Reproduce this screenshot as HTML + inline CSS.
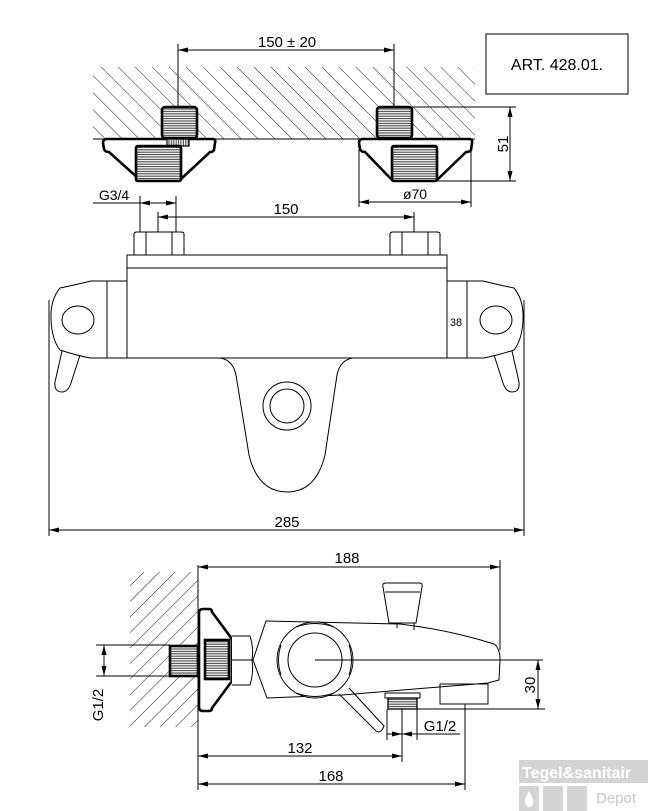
<!DOCTYPE html>
<html><head><meta charset="utf-8"><style>
html,body{margin:0;padding:0;background:#fff;}
svg{display:block;}
text{font-family:"Liberation Sans",sans-serif;fill:#000;}
</style></head><body>
<svg width="648" height="811" viewBox="0 0 648 811" xmlns="http://www.w3.org/2000/svg">
<defs>
<pattern id="h1" patternUnits="userSpaceOnUse" width="12" height="12" patternTransform="rotate(-45)">
<line x1="0" y1="0" x2="0" y2="12" stroke="#000" stroke-width="0.9"/>
</pattern>
<pattern id="h2" patternUnits="userSpaceOnUse" width="11" height="11" patternTransform="rotate(45)">
<line x1="0" y1="0" x2="0" y2="11" stroke="#000" stroke-width="0.9"/>
</pattern>
<pattern id="th" patternUnits="userSpaceOnUse" width="4" height="2.4">
<rect width="4" height="2.4" fill="#fff"/>
<line x1="0" y1="1" x2="4" y2="1" stroke="#444" stroke-width="1.1"/>
</pattern>
<pattern id="tv" patternUnits="userSpaceOnUse" width="2.4" height="4">
<rect width="2.4" height="4" fill="#fff"/>
<line x1="1" y1="0" x2="1" y2="4" stroke="#444" stroke-width="1.1"/>
</pattern>
<marker id="a" viewBox="0 0 10 6" refX="10" refY="3" markerWidth="10" markerHeight="6" orient="auto-start-reverse" markerUnits="userSpaceOnUse">
<path d="M0,0.5 L10,3 L0,5.5 z" fill="#000"/>
</marker>
</defs>

<g fill="none" stroke="#000" stroke-width="1">
<!-- TOP VIEW -->
<rect x="93" y="67" width="382" height="72" fill="url(#h1)" stroke="none"/>
<line x1="93" y1="139" x2="475" y2="139"/>
<line x1="178" y1="50" x2="394" y2="50" marker-start="url(#a)" marker-end="url(#a)"/>
<line x1="178" y1="44" x2="178" y2="106"/>
<line x1="394" y1="44" x2="394" y2="106"/>
<rect x="486" y="34" width="142" height="60"/>

<g stroke-width="2.6">
<rect x="162" y="107" width="35" height="31" rx="3" fill="url(#th)"/>
<path d="M107,139 L213,139 Q216,139 215,143 L214,150 Q213,152 210,152 L180,180 L140,180 L109,152 Q105,152 104,149 L103,143 Q103,139 107,139 z" fill="#fff"/>
<rect x="167" y="139" width="22" height="7" fill="url(#tv)" stroke-width="1.2"/>
<rect x="136" y="146" width="45" height="35" rx="2" fill="url(#th)"/>
<rect x="377" y="107" width="35" height="31" rx="3" fill="url(#th)"/>
<path d="M363,139 L469,139 Q473,139 472,143 L471,150 Q470,152 466,152 L437,180 L392,180 L365,152 Q361,152 360,149 L359,143 Q359,139 363,139 z" fill="#fff"/>
<rect x="392" y="146" width="45" height="35" rx="2" fill="url(#th)"/>
</g>
<line x1="412" y1="107" x2="516" y2="107"/>
<line x1="437" y1="181" x2="516" y2="181"/>
<line x1="510" y1="107" x2="510" y2="181" marker-start="url(#a)" marker-end="url(#a)"/>
<line x1="359" y1="150" x2="359" y2="207"/>
<line x1="471" y1="150" x2="471" y2="207"/>
<line x1="359" y1="202" x2="471" y2="202" marker-start="url(#a)" marker-end="url(#a)"/>
<line x1="93" y1="203" x2="140" y2="203"/>
<line x1="140" y1="203" x2="176" y2="203" marker-start="url(#a)" marker-end="url(#a)"/>
<line x1="140" y1="196" x2="140" y2="232"/>
<line x1="176" y1="196" x2="176" y2="232"/>
<line x1="158" y1="217" x2="414" y2="217" marker-start="url(#a)" marker-end="url(#a)"/>
<line x1="158" y1="212" x2="158" y2="232"/>
<line x1="414" y1="212" x2="414" y2="232"/>

<!-- FRONT VIEW -->
<path d="M134,255 L134,234 Q134,232 137,232 L181,232 Q184,232 184,234 L184,255"/>
<line x1="146" y1="232" x2="146" y2="255"/><line x1="172" y1="232" x2="172" y2="255"/>
<path d="M390,255 L390,234 Q390,232 393,232 L437,232 Q440,232 440,234 L440,255"/>
<line x1="402" y1="232" x2="402" y2="255"/><line x1="428" y1="232" x2="428" y2="255"/>
<rect x="127" y="255" width="320" height="103"/>
<line x1="127" y1="268" x2="447" y2="268"/>
<rect x="107" y="281" width="20" height="77"/>
<rect x="447" y="281" width="20" height="77"/>
<path d="M107,281 L91,281 Q75,285 60,288 Q50,300 51,320 Q52,340 60,350 Q75,355 90,358 L107,358"/>
<ellipse cx="78" cy="320" rx="16" ry="14"/>
<path d="M62,351 L55,382 Q54,392 62,392 Q68,392 71,383 L80,355"/>
<path d="M467,281 L483,281 Q499,285 514,288 Q524,300 523,320 Q522,340 514,350 Q499,355 484,358 L467,358"/>
<ellipse cx="496" cy="320" rx="16" ry="14"/>
<path d="M512,351 L519,382 Q520,392 512,392 Q506,392 503,383 L494,355"/>
<path d="M107,358 L220,358 Q233,360 236,375 L249,455 Q258,492 287,492 Q316,492 325,455 L337,375 Q340,360 353,358 L467,358"/>
<circle cx="287" cy="406" r="24"/>
<circle cx="287" cy="406" r="17"/>
<line x1="49" y1="300" x2="49" y2="536"/>
<line x1="524" y1="300" x2="524" y2="536"/>
<line x1="49" y1="530" x2="524" y2="530" marker-start="url(#a)" marker-end="url(#a)"/>

<!-- SIDE VIEW -->
<rect x="130" y="572" width="68" height="155" fill="url(#h2)" stroke="none"/>
<line x1="198" y1="565" x2="198" y2="790"/>
<line x1="198" y1="567" x2="500" y2="567" marker-start="url(#a)" marker-end="url(#a)"/>
<line x1="500" y1="560" x2="500" y2="650"/>
<g stroke-width="2.6">
<rect x="170" y="646" width="28" height="30" fill="url(#th)"/>
<path d="M203,609 L209,609 Q212,609 212,612 L232,639 L232,681 L212,708 Q212,711 209,711 L203,711 Q199,711 199,707 L199,613 Q199,609 203,609 z" fill="#fff"/>
<rect x="205" y="640" width="24" height="39" fill="url(#th)"/>
</g>
<path d="M232,636 L250,636 Q254,648 252,660 Q254,672 250,685 L232,685" fill="#fff"/>
<line x1="232" y1="660" x2="252" y2="660"/>
<path d="M253,660 L266,621 L400,624 Q450,630 494,644 Q500,648 500,660 L499,680 L488,683 L342,695 L267,698 z" fill="#fff"/>
<circle cx="315" cy="660" r="38" fill="#fff"/>
<circle cx="315" cy="660" r="27"/>
<path d="M296,627 Q315,620 334,627 M296,693 Q315,700 334,693 M281,645 Q276,660 281,675 M349,645 Q354,660 349,675"/>
<path d="M339,694 L376,731 Q381,734 384,726 L349,688"/>
<line x1="315" y1="660" x2="543" y2="660"/>
<path d="M386,583 L419,583 Q423,583 422,587 L416,623 L389,623 L383,587 Q382,583 386,583 z"/>
<line x1="385" y1="592" x2="420" y2="592"/>
<path d="M397,623 L397,628 M414,623 L414,630"/>
<rect x="385" y="693" width="35" height="5"/>
<rect x="388" y="698" width="29" height="11" fill="url(#th)" stroke-width="1.3"/>
<rect x="440" y="684" width="48" height="20"/>
<line x1="417" y1="709" x2="545" y2="709"/>
<line x1="538" y1="660" x2="538" y2="709" marker-start="url(#a)" marker-end="url(#a)"/>
<line x1="96" y1="645" x2="170" y2="645"/>
<line x1="96" y1="676" x2="170" y2="676"/>
<line x1="104" y1="645" x2="104" y2="676" marker-start="url(#a)" marker-end="url(#a)"/>
<line x1="387" y1="709" x2="387" y2="740"/>
<line x1="402" y1="709" x2="402" y2="762"/>
<line x1="417" y1="709" x2="417" y2="740"/>
<line x1="387" y1="734" x2="402" y2="734" marker-end="url(#a)"/>
<line x1="402" y1="734" x2="417" y2="734" marker-start="url(#a)"/>
<line x1="417" y1="734" x2="460" y2="734"/>
<line x1="465" y1="704" x2="465" y2="790"/>
<line x1="198" y1="756" x2="402" y2="756" marker-start="url(#a)" marker-end="url(#a)"/>
<line x1="198" y1="784" x2="465" y2="784" marker-start="url(#a)" marker-end="url(#a)"/>
</g>

<text x="287" y="47" font-size="15" text-anchor="middle">150 ± 20</text>
<text x="557" y="70" font-size="16" text-anchor="middle">ART.  428.01.</text>
<text x="508" y="144" font-size="15" text-anchor="middle" transform="rotate(-90 508 144)">51</text>
<text x="415" y="199" font-size="14" text-anchor="middle">ø70</text>
<text x="114" y="200" font-size="14" text-anchor="middle">G3/4</text>
<text x="286" y="214" font-size="15" text-anchor="middle">150</text>
<text x="456" y="326" font-size="11" text-anchor="middle">38</text>
<text x="287" y="527" font-size="15" text-anchor="middle">285</text>
<text x="347" y="563" font-size="15" text-anchor="middle">188</text>
<text x="535" y="685" font-size="15" text-anchor="middle" transform="rotate(-90 535 685)">30</text>
<text x="103" y="705" font-size="15" text-anchor="middle" transform="rotate(-90 103 705)">G1/2</text>
<text x="440" y="731" font-size="15" text-anchor="middle">G1/2</text>
<text x="300" y="753" font-size="15" text-anchor="middle">132</text>
<text x="331" y="781" font-size="15" text-anchor="middle">168</text>

<rect x="519" y="760" width="129" height="23" fill="#d4d4d4"/>
<text x="522" y="778" font-size="16" font-weight="bold" style="fill:#fff">Tegel&amp;sanitair</text>
<rect x="519" y="786" width="20" height="25" fill="#d4d4d4"/>
<rect x="543" y="786" width="20" height="25" fill="#d4d4d4"/>
<rect x="567" y="786" width="20" height="25" fill="#d4d4d4"/>
<path d="M529,791 Q524,799 525,803 Q526,807 529,807 Q533,807 533,803 Q534,799 529,791 z" fill="#fff"/>
<text x="596" y="803" font-size="15" style="fill:#c8c8c8">Depot</text>
</svg>
</body></html>
